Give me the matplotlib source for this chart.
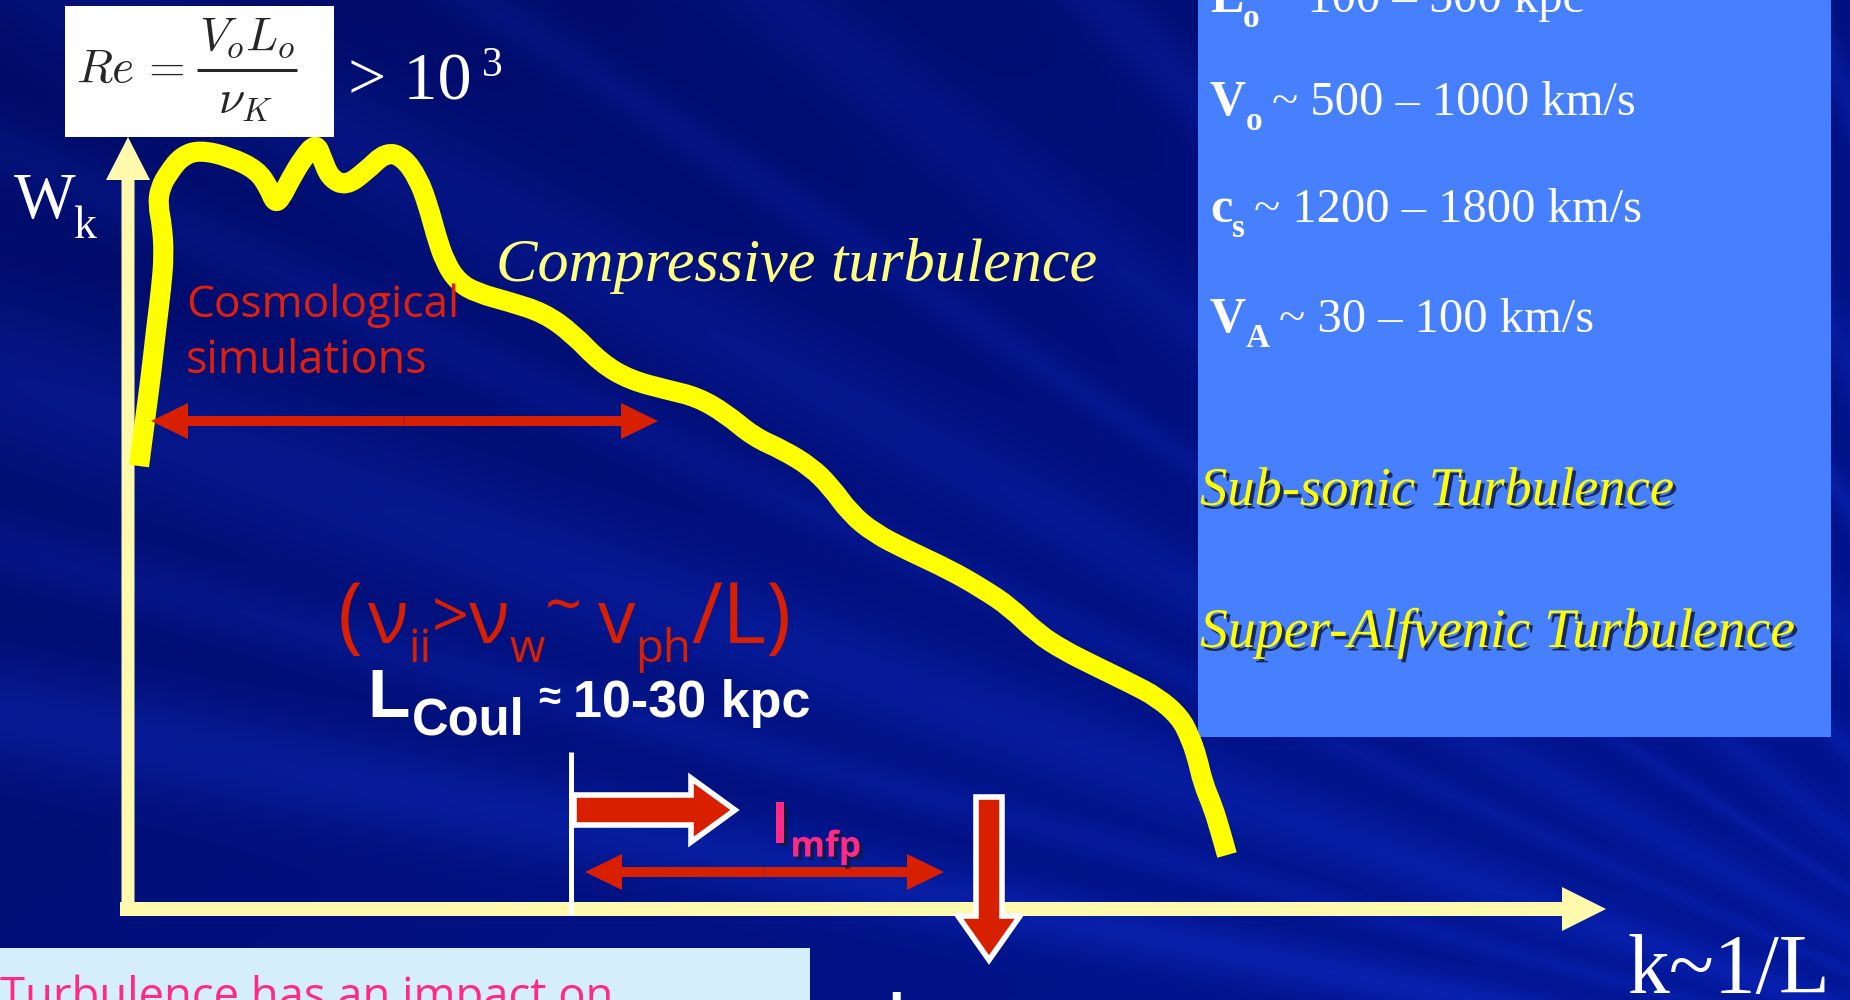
import numpy as np
import matplotlib
matplotlib.use("Agg")
import matplotlib.pyplot as plt
from matplotlib.patches import FancyArrow, Rectangle, PathPatch
from matplotlib.path import Path
import matplotlib.patheffects as pe
from matplotlib import font_manager as fm

# ---------------- data ----------------
# hand-drawn turbulent energy spectrum W_k versus k (slide pixel units)
spectrum_k = [139, 145, 151, 156, 161, 164, 162, 158, 160, 169, 182, 200, 230, 257, 269, 275,
              281, 290, 303, 316, 322, 330, 346, 366, 386, 403, 418, 428, 436, 445, 458, 477,
              510, 544, 572, 601, 630, 668, 697, 725, 754, 783, 811, 831, 850, 874, 907, 950,
              983, 1010, 1037, 1063, 1097, 1130, 1157, 1180, 1190, 1197, 1203, 1213, 1220, 1227]
spectrum_W = [466, 420, 375, 330, 290, 255, 225, 205, 188, 172, 156, 150, 157, 170, 188, 203,
              198, 180, 158, 143, 158, 178, 186, 171, 152, 157, 178, 205, 235, 262, 282, 293,
              302, 313, 333, 363, 380, 390, 397, 413, 437, 450, 467, 487, 513, 533, 550, 570,
              589, 607, 633, 650, 667, 683, 697, 717, 737, 757, 783, 807, 830, 855]

param_symbols = ["L", "V", "c", "V"]
param_subs = ["o", "o", "s", "A"]
param_ranges = ["~ 100 \u2013 500 kpc", "~ 500 \u2013 1000 km/s",
                "~ 1200 \u2013 1800 km/s", "~ 30 \u2013 100 km/s"]
regime_labels = ["Sub-sonic Turbulence", "Super-Alfvenic Turbulence"]
x_label = "k~1/L"
y_label = ("W", "k")
curve_label = "Compressive turbulence"
sim_label = ["Cosmological", "simulations"]
coulomb_scale = "10-30 kpc"
bottom_note = "Turbulence has an impact on"

# ---------------- fonts / colours ----------------
names = {f.name for f in fm.fontManager.ttflist}
COMIC = "Open Sans" if "Open Sans" in names else "DejaVu Sans"
SERIF = "Liberation Serif" if "Liberation Serif" in names else "DejaVu Serif"
SANS = "Liberation Sans" if "Liberation Sans" in names else "DejaVu Sans"
plt.rcParams["mathtext.fontset"] = "cm"

AXIS_C = "#FFF9AE"
CURVE_C = "#FFFF00"
RED = "#D82000"
PINK = "#FF2A84"
BOX_C = "#4680FF"

W, H = 1850, 1000
fig = plt.figure(figsize=(W / 100, H / 100), dpi=100)
ax = fig.add_axes([0, 0, 1, 1])
ax.set_xlim(0, W)
ax.set_ylim(H, 0)
ax.axis("off")
renderer = fig.canvas.get_renderer()

# ---------------- background (dark blue with rays) ----------------
yy, xx = np.mgrid[0:H, 0:W].astype(float)
tt = np.clip(0.55 * xx / W + 0.45 * yy / H, 0, 1)
bg = (np.array([0, 10, 100])[None, None, :] * (1 - tt)[..., None]
      + np.array([2, 22, 150])[None, None, :] * tt[..., None])
cx, cy = 2250.0, 1150.0
ang = np.degrees(np.arctan2(cy - yy, cx - xx))
rays = [(11, 1.0, 0.55), (15, 0.6, 0.35), (19, 1.4, 0.45), (24, 0.6, 0.3), (28, 1.2, 0.35),
        (33, 0.5, 0.3), (38, 1.0, 0.3), (45, 0.8, 0.35), (52, 1.2, 0.35), (58, 0.6, 0.45),
        (63, 0.9, 0.4), (69, 0.5, 0.45)]
glow = np.zeros_like(xx)
for a0, wdt, s in rays:
    glow += s * np.exp(-0.5 * ((ang - a0) / wdt) ** 2)
bg = bg + glow[..., None] * np.array([12, 22, 55])[None, None, :]
bg = np.clip(bg, 0, 255) / 255.0
ax.imshow(bg, extent=(0, W, H, 0), zorder=0, aspect="auto", interpolation="bilinear")


def run(x, y, parts, target_w=None, **common):
    """parts: (text, size, dy, gap_after, extra_kwargs)"""
    texts = []
    for s, size, dy, gap, kw in parts:
        opts = dict(common)
        opts.update(kw)
        t = ax.text(x, y, s, fontsize=size, ha="left", va="baseline", **opts)
        texts.append(t)

    def layout(scale):
        px = x
        for t, (s, size, dy, gap, kw) in zip(texts, parts):
            t.set_fontsize(size * scale)
            t.set_position((px, y + dy * scale))
            px += t.get_window_extent(renderer).width + gap * scale
        return px - x

    w = layout(1.0)
    if target_w:
        layout(target_w / w)
    return texts


def fit(x, y, s, target_w, size, **kw):
    t = ax.text(x, y, s, fontsize=size, **kw)
    w = t.get_window_extent(renderer).width
    t.set_fontsize(size * target_w / w)
    return t


# ---------------- boxes ----------------
ax.add_patch(Rectangle((1198, -5), 633, 742, fc=BOX_C, ec="none", zorder=1))
ax.add_patch(Rectangle((-5, 948), 815, 60, fc="#D4EEFB", ec="none", zorder=1))
ax.add_patch(Rectangle((65, 6), 269, 131, fc="white", ec="none", zorder=4))

# ---------------- axes arrows ----------------
ax.add_patch(FancyArrow(128, 916, 0, -(916 - 137), width=13, head_width=44, head_length=43,
                        length_includes_head=True, fc=AXIS_C, ec="none", zorder=2))
ax.add_patch(FancyArrow(120, 909, 1606 - 120, 0, width=14, head_width=44, head_length=44,
                        length_includes_head=True, fc=AXIS_C, ec="none", zorder=2))

# ---------------- spectrum curve (smooth quadratic path through the traced points) ----------------
pts = list(zip(spectrum_k, spectrum_W))
verts = [pts[0]]
codes = [Path.MOVETO]
for i in range(1, len(pts) - 1):
    mid = ((pts[i][0] + pts[i + 1][0]) / 2, (pts[i][1] + pts[i + 1][1]) / 2)
    verts += [pts[i], mid]
    codes += [Path.CURVE3, Path.CURVE3]
verts.append(pts[-1])
codes.append(Path.LINETO)
ax.add_patch(PathPatch(Path(verts, codes), fill=False, ec=CURVE_C, lw=14.5,
                       joinstyle="round", capstyle="butt", zorder=3))

# ---------------- red double arrows ----------------
for c, half, yv in [(404.5, 253.5, 421), (764.5, 179.5, 872)]:
    for sgn in (1, -1):
        ax.add_patch(FancyArrow(c, yv, sgn * half, 0, width=10, head_width=36, head_length=37,
                                length_includes_head=True, fc=RED, ec="none", zorder=5))

# white marker line at L_Coul
ax.plot([571, 571], [752, 915], color="white", lw=3.6, solid_capstyle="butt", zorder=6)

# block arrows
ax.add_patch(FancyArrow(574, 810, 161, 0, width=30, head_width=64, head_length=44,
                        length_includes_head=True, fc=RED, ec="white", lw=4,
                        joinstyle="miter", zorder=6))
ax.add_patch(FancyArrow(989, 797, 0, 163, width=26, head_width=62, head_length=44,
                        length_includes_head=True, fc=RED, ec="white", lw=4,
                        joinstyle="miter", zorder=6))

# ---------------- Reynolds number formula ----------------
FORM_C = "#262626"
ax.text(76, 82, r"$Re\,=$", fontsize=34, ha="left", va="baseline", color=FORM_C, zorder=5)
ax.text(247, 50, r"$V_oL_o$", fontsize=34, ha="center", va="baseline", color=FORM_C, zorder=5)
ax.plot([197, 297], [70, 70], color=FORM_C, lw=2.2, solid_capstyle="butt", zorder=5)
ax.text(245, 113, r"$\nu_K$", fontsize=34, ha="center", va="baseline", color=FORM_C, zorder=5)

ax.text(348, 100, "> 10", fontsize=49, family=SERIF, color="white", va="baseline", zorder=5)
ax.text(482, 76, "3", fontsize=30, family=SERIF, color="white", va="baseline", zorder=5)

ax.text(14, 218, y_label[0], fontsize=47, family=SERIF, color="white", va="baseline")
ax.text(73, 238, y_label[1], fontsize=33, family=SERIF, color="white", va="baseline")

fit(496, 281, curve_label, 601, 48, family=SERIF, style="italic", color="#FFFF80",
    va="baseline", zorder=5)

fit(186, 317, sim_label[0], 273, 30, family=COMIC, color="#E0200C", va="baseline", zorder=5)
fit(186, 373, sim_label[1], 241, 30, family=COMIC, color="#E0200C", va="baseline", zorder=5)

# parameter list in blue box
baselines = [12, 115, 222, 332]
for sym, sub, rng, yb in zip(param_symbols, param_subs, param_ranges, baselines):
    run(1210, yb, [(sym, 36, 0, 0, dict(weight="bold")),
                   (sub, 24, 15, 9, dict(weight="bold")),
                   (rng, 35, 0, 0, {})],
        family=SERIF, color="white", zorder=5)

shadow = [pe.SimplePatchShadow(offset=(2.5, -2.5), shadow_rgbFace="#101a40", alpha=0.85),
          pe.Normal()]
fit(1200, 505, regime_labels[0], 475, 42, family=SERIF, style="italic", color=CURVE_C,
    va="baseline", zorder=5, path_effects=shadow)
fit(1200, 647, regime_labels[1], 596, 42, family=SERIF, style="italic", color=CURVE_C,
    va="baseline", zorder=5, path_effects=shadow)

# collision frequency condition
run(338, 643, [("(", 52, 0, 4, {}), ("\u03bd", 46, 0, 0, {}), ("ii", 28, 16, 0, {}),
               (">", 40, -4, 0, {}), ("\u03bd", 46, 0, 0, {}), ("w", 28, 16, 0, {}),
               ("~", 40, -14, 14, {}), ("v", 46, 0, 0, {}), ("ph", 28, 16, 0, {}),
               ("/L)", 52, 0, 0, {})],
    target_w=453, family=COMIC, color=RED, zorder=5)

# Coulomb length
run(367, 717, [("L", 52, 0, 2, {}), ("Coul", 38, 18, 14, {}), ("\u2248", 30, -8, 14, {}),
               (coulomb_scale, 39, 0, 0, {})],
    target_w=443, family=SANS, weight="bold", color="white", zorder=5)

# mean free path label
run(772, 843, [("l", 46, 0, 2, {}), ("mfp", 30, 16, 0, {})], target_w=89,
    family=COMIC, color=PINK, weight="bold", zorder=7, path_effects=shadow)

fit(1627, 993, x_label, 203, 60, family=SERIF, color="white", va="baseline", zorder=5)

fit(0, 1010, bottom_note, 612, 40, family=COMIC, color=PINK, va="baseline", zorder=5)
ax.text(888, 990, "L", fontsize=40, family=SANS, weight="bold", color="white",
        va="top", zorder=5)

fig.savefig("out.png", dpi=100)
